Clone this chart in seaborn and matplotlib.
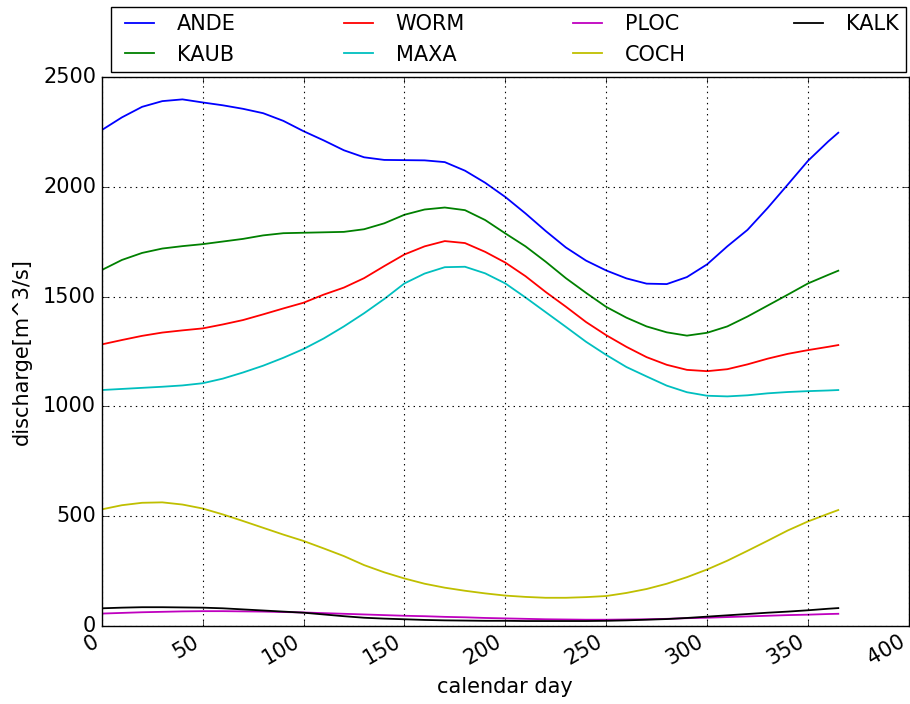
import matplotlib
matplotlib.use("Agg")
import matplotlib.pyplot as plt
import seaborn as sns
import pandas as pd

# calendar days at which each gauge's mean discharge is tabulated
days = [0, 10, 20, 30, 40, 50, 60, 70, 80, 90, 100, 110, 120, 130, 140, 150, 160, 170, 180,
        190, 200, 210, 220, 230, 240, 250, 260, 270, 280, 290, 300, 310, 320, 330, 340,
        350, 360, 365]

# mean daily discharge [m^3/s] per gauge
ande = [2260, 2318, 2366, 2392, 2400, 2386, 2373, 2357, 2337, 2302, 2255, 2213, 2168,
        2136, 2124, 2123, 2122, 2114, 2075, 2020, 1955, 1880, 1800, 1725, 1665, 1620,
        1584, 1560, 1558, 1590, 1648, 1730, 1805, 1905, 2012, 2120, 2208, 2248]
kaub = [1622, 1668, 1700, 1720, 1731, 1740, 1752, 1764, 1780, 1790, 1792, 1794, 1796,
        1808, 1835, 1874, 1898, 1907, 1895, 1850, 1789, 1730, 1660, 1585, 1518, 1454,
        1405, 1365, 1338, 1323, 1336, 1365, 1410, 1460, 1510, 1561, 1600, 1619]
worm = [1283, 1303, 1322, 1337, 1347, 1356, 1374, 1394, 1420, 1447, 1473, 1510, 1542,
        1585, 1640, 1693, 1730, 1754, 1745, 1705, 1656, 1594, 1522, 1455, 1385, 1325,
        1272, 1225, 1190, 1167, 1161, 1170, 1192, 1218, 1240, 1257, 1272, 1280]
maxa = [1075, 1080, 1085, 1090, 1096, 1106, 1127, 1155, 1186, 1222, 1262, 1310, 1365,
        1425, 1490, 1561, 1606, 1635, 1637, 1607, 1561, 1497, 1430, 1363, 1295, 1235,
        1180, 1137, 1095, 1065, 1049, 1046, 1051, 1060, 1066, 1070, 1073, 1075]
ploc = [56, 59, 62, 64, 66, 67, 67, 66, 65, 63, 61, 58, 55, 52, 49, 46, 44, 41, 39,
        36, 34, 32, 30, 29, 28, 28, 29, 30, 32, 35, 37, 40, 43, 46, 49, 51, 54, 55]
coch = [531, 550, 561, 563, 553, 535, 508, 478, 447, 416, 387, 353, 318, 277, 244,
        216, 192, 174, 160, 148, 138, 132, 128, 128, 131, 136, 150, 168, 192, 222,
        257, 297, 342, 388, 435, 476, 511, 528]
kalk = [80, 83, 85, 85, 84, 83, 80, 75, 70, 65, 60, 52, 44, 37, 33, 30, 27, 25, 24,
        23, 23, 22, 22, 22, 22, 23, 25, 28, 31, 36, 42, 48, 54, 60, 65, 71, 78, 81]

stations = ["ANDE", "KAUB", "WORM", "MAXA", "PLOC", "COCH", "KALK"]
series = [ande, kaub, worm, maxa, ploc, coch, kalk]
colors = ["b", "g", "r", "c", "m", "y", "k"]

x_ticks = [0, 50, 100, 150, 200, 250, 300, 350, 400]
y_ticks = [0, 500, 1000, 1500, 2000, 2500]

frames = [pd.DataFrame({"day": days, "discharge": vals, "station": name})
          for name, vals in zip(stations, series)]
df = pd.concat(frames, ignore_index=True)

plt.style.use("classic")
plt.rcParams["font.family"] = ["DejaVu Sans"]
plt.rcParams["figure.facecolor"] = "white"
plt.rcParams["savefig.facecolor"] = "white"

fig = plt.figure(figsize=(9.10, 7.04), dpi=100)
ax = fig.add_axes([0.1118, 0.111, 0.887, 0.779])

sns.lineplot(data=df, x="day", y="discharge", hue="station",
             hue_order=stations, palette=dict(zip(stations, colors)),
             linewidth=1.3, ax=ax, legend=True)

ax.set_xlim(0, 400)
ax.set_ylim(0, 2500)
ax.set_xticks(x_ticks)
ax.set_yticks(y_ticks)
ax.grid(True, color="k", linestyle=":", linewidth=0.8)
ax.tick_params(axis="both", labelsize=15)
for lbl in ax.get_xticklabels():
    lbl.set_rotation(30)
    lbl.set_ha("right")
ax.set_xlabel("calendar day", fontsize=15, labelpad=6)
ax.set_ylabel("discharge[m^3/s]", fontsize=15, labelpad=8)

handles, labels = ax.get_legend_handles_labels()
ax.get_legend().remove()
fig.legend(handles, labels, ncol=4, mode="expand", loc="lower left",
           bbox_to_anchor=(0.122, 0.898, 0.874, 0.09), borderaxespad=0,
           borderpad=0.35, fontsize=15, frameon=True, fancybox=False,
           edgecolor="k")

fig.savefig("out.png", dpi=100)
